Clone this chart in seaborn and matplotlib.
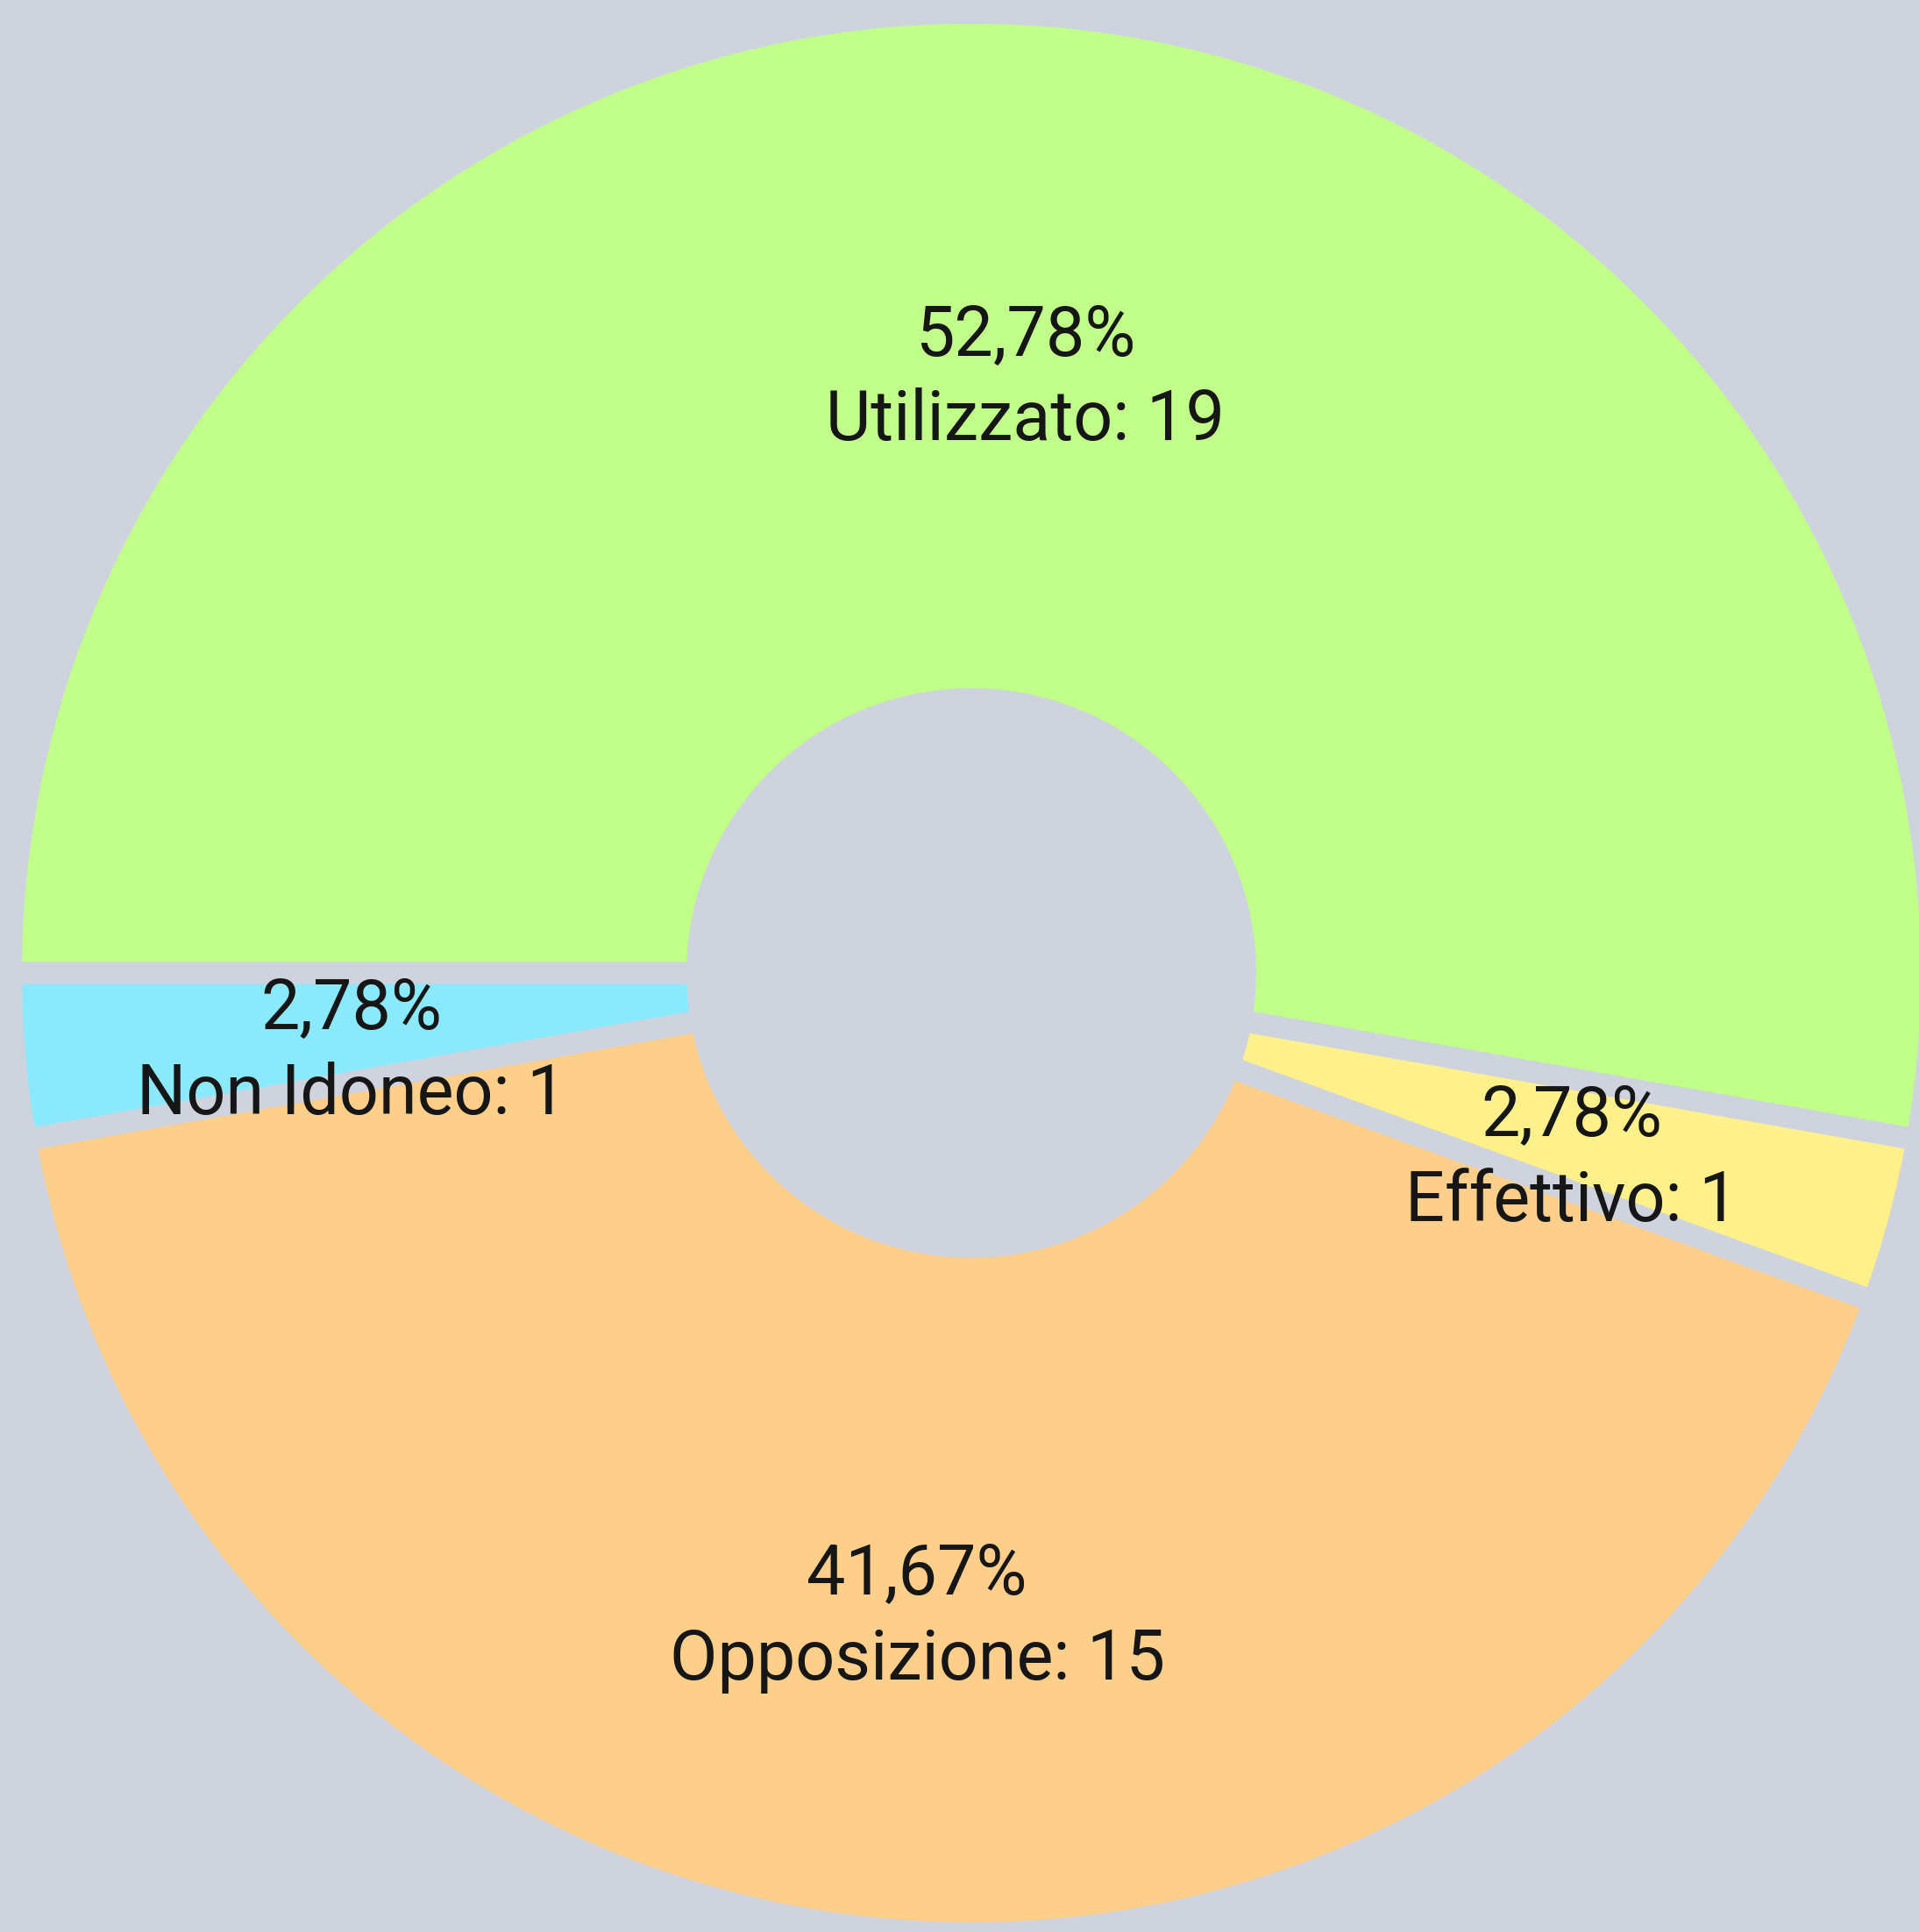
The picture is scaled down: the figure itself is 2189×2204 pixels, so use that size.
import matplotlib
matplotlib.use("Agg")
import matplotlib.pyplot as plt
import seaborn as sns

# data
categories = ["Utilizzato", "Effettivo", "Opposizione", "Non Idoneo"]
counts = [19, 1, 15, 1]
colors = ["#C1FE8A", "#FEF18C", "#FECE8B", "#8BE9FC"]
bg = "#CED3DE"

sns.set_theme(style="white")
plt.rcParams["font.family"] = ["Roboto", "DejaVu Sans"]

total = sum(counts)
labels = []
for name, c in zip(categories, counts):
    pct = f"{c / total * 100:.2f}".replace(".", ",")
    labels.append(f"{pct}%\n{name}: {c}")

W, H = 2189, 2204
fig = plt.figure(figsize=(W / 100, H / 100), dpi=100, facecolor=bg)
# pie centre approx (1108, 1110) px, outer radius 1083 px
R = 1083
ax = fig.add_axes([(1108 - R) / W, (H - 1110 - R) / H, 2 * R / W, 2 * R / H])
ax.set_facecolor(bg)

lw = 18  # gap between slices, points
half = (lw / 2) / 72 * 100 / R  # half line width in data units
rad = 1 + half
wedges, texts = ax.pie(
    counts,
    labels=labels,
    colors=sns.color_palette(colors),
    startangle=180,
    counterclock=False,
    radius=rad,
    labeldistance=0.655 / rad,
    wedgeprops=dict(width=rad - (0.30 - half), edgecolor=bg, linewidth=lw),
    textprops=dict(fontsize=57, color="#161616", linespacing=1.36),
)
for t in texts:
    t.set_horizontalalignment("center")
    t.set_verticalalignment("center")
    x, y = t.get_position()
    t.set_position((x, y - 0.026))

ax.set_xlim(-1, 1)
ax.set_ylim(-1, 1)
ax.set_aspect("equal")
ax.axis("off")

fig.savefig("out.png", dpi=100, facecolor=bg)
